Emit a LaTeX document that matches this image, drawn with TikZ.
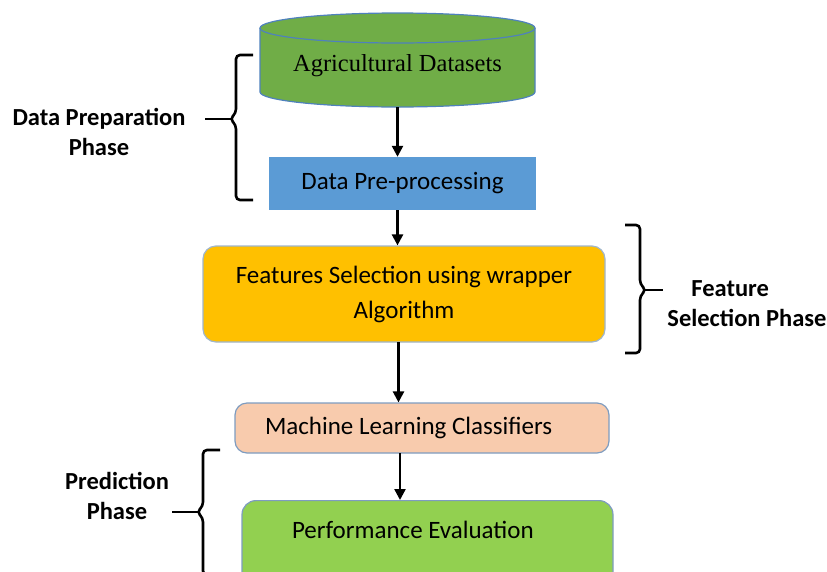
\documentclass[tikz,border=0pt]{standalone}
\usepackage{fontspec}
\setmainfont{Carlito}
\newfontfamily\timesfont{Liberation Serif}
\usetikzlibrary{arrows.meta}

\definecolor{dsgreen}{HTML}{70AD47}
\definecolor{dsedge}{HTML}{4F81BD}
\definecolor{preblue}{HTML}{5B9BD5}
\definecolor{fsgold}{HTML}{FFC000}
\definecolor{fsedge}{HTML}{9FB6CD}
\definecolor{mlpeach}{HTML}{F8CBAD}
\definecolor{boxedge}{HTML}{7E9CC0}
\definecolor{pegreen}{HTML}{92D050}

\tikzset{
  flow/.style={line width=2.4pt, -{Triangle[length=11pt,width=11pt]}},
  bracket/.style={line width=2.6pt, rounded corners=4pt},
  phase/.style={font=\fontsize{24.5}{30}\selectfont\bfseries, align=center},
  boxtext/.style={font=\fontsize{25}{35}\selectfont},
}

\begin{document}
\begin{tikzpicture}[x=1pt,y=1pt]
\useasboundingbox (0,0) rectangle (827,-571);

% dataset cylinder
\fill[dsgreen] (260,-28) -- (260,-92) arc[start angle=180,end angle=360,x radius=137.5,y radius=15]
  -- (535,-28) arc[start angle=0,end angle=180,x radius=137.5,y radius=15] -- cycle;
\draw[dsedge, line width=1.2pt] (260,-28) -- (260,-92) arc[start angle=180,end angle=360,x radius=137.5,y radius=15] -- (535,-28);
\draw[dsedge, line width=1.2pt] (397.5,-28) ellipse[x radius=137.5,y radius=15];
\node[font=\timesfont\fontsize{24.5}{28}\selectfont] (ds) at (397.5,-66) {Agricultural Datasets};
\coordinate (dsb) at (397.5,-107);

% process boxes
\node[boxtext, fill=preblue, minimum width=267pt, minimum height=53pt, inner sep=0pt] (pre) at (402.5,-183.5) {Data Pre-processing};
\node[boxtext, fill=fsgold, draw=fsedge, line width=1.2pt, rounded corners=13pt,
      minimum width=402pt, minimum height=96pt, align=center, inner sep=0pt] (fs) at (404,-294)
      {Features Selection using wrapper\\Algorithm};
\node[boxtext, fill=mlpeach, draw=boxedge, line width=1.2pt, rounded corners=12pt,
      minimum height=50pt, text width=314pt, inner xsep=30pt, inner ysep=0pt, align=flush left] (ml) at (422,-428)
      {Machine Learning Classifiers};
\node[boxtext, fill=pegreen, draw=boxedge, line width=1.2pt, rounded corners=14pt, anchor=north,
      text width=271pt, inner xsep=50pt, inner ysep=0pt, align=flush left, text height=38pt, text depth=47pt] (pe) at (427.5,-500)
      {Performance Evaluation};

% flow arrows
\draw[flow] (dsb) -- (dsb |- pre.north);
\draw[flow] (397.5,-210) coordinate (p1) -- (p1 |- fs.north);
\draw[flow] (398.5,-342) coordinate (p2) -- (p2 |- ml.north);
\draw[flow] (400,-453) coordinate (p3) -- (p3 |- pe.north);

% phase brackets with their pointer ticks
\draw[bracket] (253,-55) -- (236,-55) -- (236,-113) -- (230,-119) -- (236,-125) -- (236,-200) -- (253,-200);
\draw[bracket] (205,-119) -- (231,-119);
\draw[bracket] (625,-225) -- (640,-225) -- (640,-284) -- (646,-290) -- (640,-296) -- (640,-353) -- (625,-353);
\draw[bracket] (645,-290) -- (663,-290);
\draw[bracket] (220,-450) -- (203,-450) -- (203,-506) -- (197,-512) -- (203,-518) -- (203,-575) -- (220,-575);
\draw[bracket] (172,-512) -- (198,-512);

% phase labels
\node[phase] (lprep) at (99,-132) {Data Preparation\\Phase};
\node[phase, align=left] (lfeat) at (747,-304) {\hspace*{24pt}Feature\\Selection Phase};
\node[phase] (lpred) at (117,-496) {Prediction\\Phase};
\end{tikzpicture}
\end{document}
